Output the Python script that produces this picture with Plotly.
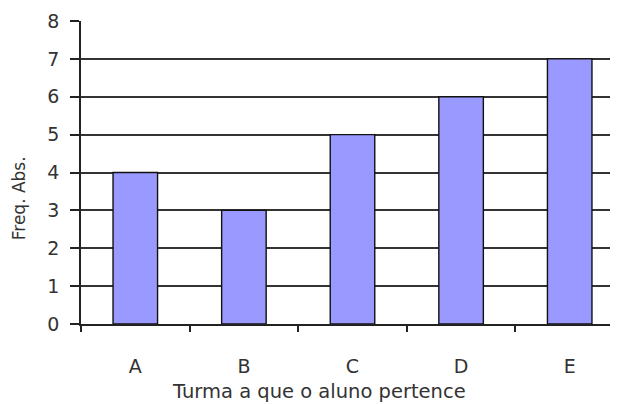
import plotly.graph_objects as go

categories = ["A", "B", "C", "D", "E"]
values = [4, 3, 5, 6, 7]
y_ticks = [0, 1, 2, 3, 4, 5, 6, 7, 8]
x_title = "Turma a que o aluno pertence"
y_title = "Freq. Abs."

fig = go.Figure(go.Bar(
    x=categories, y=values, width=0.41,
    marker=dict(color="#9999FF", line=dict(color="#111", width=1.4)),
))

font = dict(family="DejaVu Sans", size=19, color="#333")
fig.update_layout(
    width=618, height=404,
    margin=dict(l=73, r=2, t=13, b=88),
    plot_bgcolor="white", paper_bgcolor="white",
    showlegend=False, font=font,
    annotations=[
        dict(text=x_title, xref="paper", yref="paper", x=0.438, y=-0.224,
             xanchor="center", yanchor="middle", showarrow=False,
             font=dict(family="DejaVu Sans", size=19.5, color="#333")),
        dict(text=y_title, xref="paper", yref="paper", x=-0.1136, y=0.416,
             xanchor="center", yanchor="middle", showarrow=False, textangle=-90,
             font=dict(family="DejaVu Sans", size=17, color="#333")),
    ],
)
fig.update_yaxes(
    range=[0, 8], tickvals=y_ticks, showgrid=True, gridcolor="#333", gridwidth=1.6,
    showline=True, linecolor="#222", linewidth=1.6, automargin=False,
    ticks="outside", ticklen=9, tickcolor="#222", tickwidth=1.5,
    ticklabelstandoff=7, zeroline=False,
)
fig.update_xaxes(
    range=[-0.5, 4.5], tickson="boundaries", ticks="outside", ticklen=6,
    tickcolor="#222", tickwidth=1.5, showline=True, linecolor="#222", linewidth=1.6,
    ticklabelstandoff=24, showgrid=False, automargin=False,
)
fig.write_html("out.html")
